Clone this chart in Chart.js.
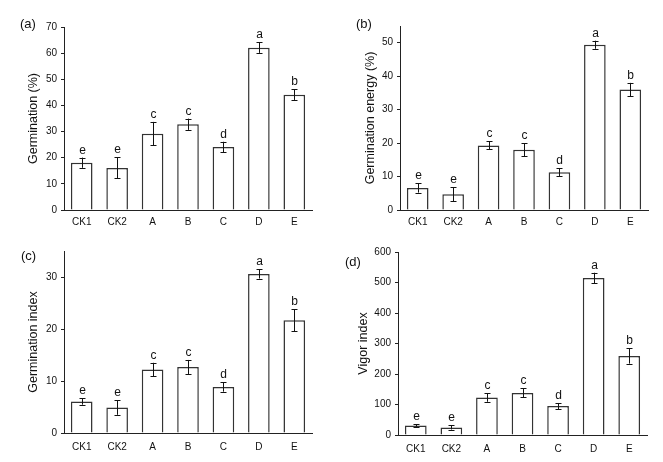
<!DOCTYPE html>
<html>
<head>
<meta charset="utf-8">
<script src="https://cdn.jsdelivr.net/npm/chart.js@4.4.1/dist/chart.umd.min.js"></script>
<style>
  body { margin: 0; background: #fff; }
  #wrap { position: relative; width: 663px; height: 462px; overflow: hidden; }
  canvas { position: absolute; }
  .tag { position: absolute; font: 13px "Liberation Sans", Arial, sans-serif; color: #111; }
</style>
</head>
<body>
<div id="wrap">
  <canvas id="chartA" width="331" height="231" style="left:0;top:0"></canvas>
  <canvas id="chartB" width="331" height="231" style="left:332px;top:0"></canvas>
  <canvas id="chartC" width="331" height="231" style="left:0;top:231px"></canvas>
  <canvas id="chartD" width="331" height="231" style="left:332px;top:231px"></canvas>
  <div class="tag" style="left:20px;top:16px">(a)</div>
  <div class="tag" style="left:356px;top:16px">(b)</div>
  <div class="tag" style="left:21px;top:248px">(c)</div>
  <div class="tag" style="left:345px;top:254px">(d)</div>
</div>
<script>
// treatments
const groups = ['CK1', 'CK2', 'A', 'B', 'C', 'D', 'E'];
const letters = ['e', 'e', 'c', 'c', 'd', 'a', 'b'];

// (a) germination %
const germination = [18.1, 16.1, 29.2, 32.8, 24.1, 62.1, 44.1];
const germinationErr = [1.95, 4.0, 4.5, 2.15, 2.0, 2.0, 2.0];
// (b) germination energy %
const energy = [6.6, 4.7, 19.3, 18.0, 11.3, 49.4, 36.0];
const energyErr = [1.4, 2.1, 1.2, 1.9, 1.2, 1.2, 2.0];
// (c) germination index
const gIndex = [6.05, 4.9, 12.2, 12.7, 8.85, 30.6, 21.7];
const gIndexErr = [0.6, 1.4, 1.3, 1.35, 0.9, 0.9, 2.1];
// (d) vigor index
const vigor = [31, 25, 123, 138, 95, 515, 259];
const vigorErr = [4, 7, 14, 15, 10, 17, 25];

const FONT = '"Liberation Sans", Arial, sans-serif';
const INK = '#111';

// error bars + significance letters
const errorBarPlugin = {
  id: 'errorBars',
  afterDatasetsDraw(chart) {
    const ctx = chart.ctx;
    const yScale = chart.scales.y;
    const meta = chart.getDatasetMeta(0);
    const ds = chart.data.datasets[0];
    ctx.save();
    ctx.strokeStyle = INK;
    ctx.lineWidth = 1;
    ctx.fillStyle = INK;
    ctx.font = '12px ' + FONT;
    ctx.textAlign = 'center';
    ctx.textBaseline = 'alphabetic';
    meta.data.forEach((bar, i) => {
      const v = ds.data[i];
      const e = ds.errors[i];
      const x = Math.round(bar.x) + 0.5;
      const yTop = yScale.getPixelForValue(v + e);
      const yBot = yScale.getPixelForValue(v - e);
      ctx.beginPath();
      ctx.moveTo(x, yTop);
      ctx.lineTo(x, yBot);
      ctx.moveTo(x - 3, Math.round(yTop) + 0.5);
      ctx.lineTo(x + 3, Math.round(yTop) + 0.5);
      ctx.moveTo(x - 3, Math.round(yBot) + 0.5);
      ctx.lineTo(x + 3, Math.round(yBot) + 0.5);
      ctx.stroke();
      ctx.fillText(ds.letters[i], x, yTop - 4);
    });
    ctx.restore();
  }
};

function makeChart(id, values, errors, yTitle, yMax, step, pad, yWidth, xHeight, xPad) {
  return new Chart(document.getElementById(id), {
    type: 'bar',
    data: {
      labels: groups,
      datasets: [{
        data: values,
        errors: errors,
        letters: letters,
        backgroundColor: '#fff',
        borderColor: '#333',
        borderWidth: 1.5,
        borderSkipped: 'bottom',
        barPercentage: 0.61,
        categoryPercentage: 1.0
      }]
    },
    options: {
      responsive: false,
      animation: false,
      layout: { padding: pad },
      plugins: { legend: { display: false }, tooltip: { enabled: false } },
      scales: {
        x: {
          grid: { display: false, drawTicks: false, tickLength: 0 },
          border: { display: true, color: '#222', width: 1 },
          ticks: { color: INK, font: { family: FONT, size: 10 }, padding: xPad, maxRotation: 0 },
          afterFit(scale) { scale.height = xHeight; }
        },
        y: {
          min: 0,
          max: yMax,
          grid: { drawOnChartArea: false, drawTicks: true, tickLength: 3, color: '#222' },
          border: { display: true, color: '#222', width: 1 },
          ticks: { stepSize: step, includeBounds: false, color: INK, font: { family: FONT, size: 10 }, padding: 4 },
          title: { display: true, text: yTitle, color: INK, font: { family: FONT, size: 12.5 }, padding: { top: 4, bottom: 4 } },
          afterFit(scale) { scale.width = yWidth; }
        }
      }
    },
    plugins: [errorBarPlugin]
  });
}

makeChart('chartA', germination, germinationErr, 'Germination (%)', 70, 10,
  { left: 22, top: 27, right: 19, bottom: 0 }, 42, 21, 6);
makeChart('chartB', energy, energyErr, 'Germination energy (%)', 55, 10,
  { left: 27, top: 26, right: 15, bottom: 0 }, 41, 21, 6);
makeChart('chartC', gIndex, gIndexErr, 'Germination index', 35, 10,
  { left: 22, top: 20, right: 19, bottom: 0 }, 42, 29, 8);
makeChart('chartD', vigor, vigorErr, 'Vigor index', 600, 100,
  { left: 20, top: 21, right: 16, bottom: 0 }, 46, 27, 8);
</script>
</body>
</html>
